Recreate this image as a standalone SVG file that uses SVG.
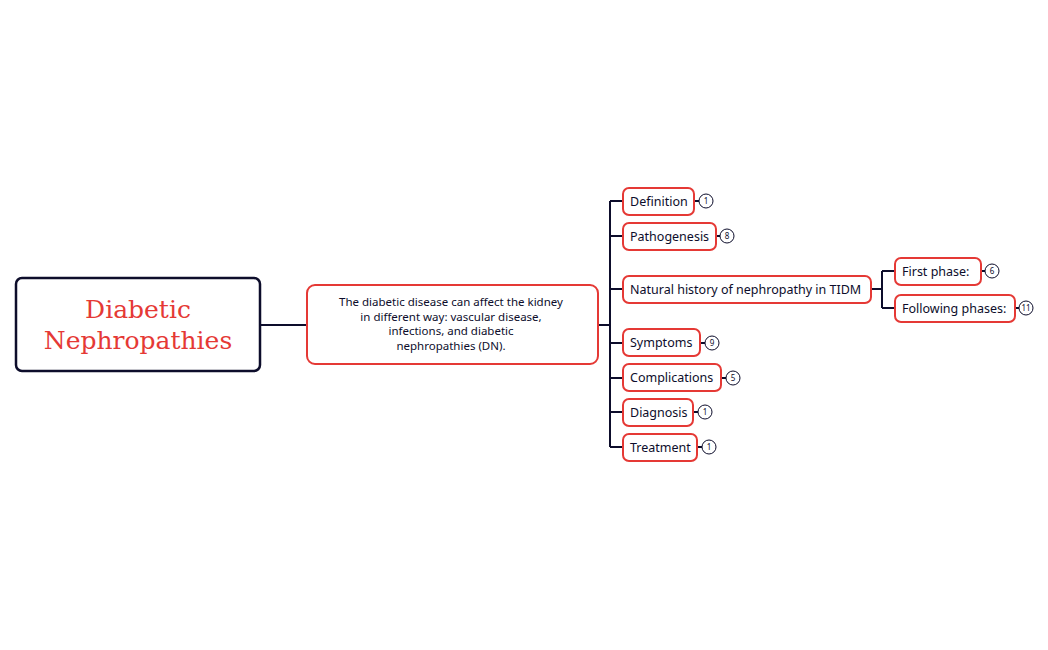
<svg xmlns="http://www.w3.org/2000/svg" width="1048" height="650" viewBox="0 0 1048 650">
<style>
.n{fill:#fff;stroke:#e53935;stroke-width:2}
.t{font-family:"Noto Sans",sans-serif;font-size:12.5px;fill:#0d0d2b}
.m{font-family:"Noto Sans",sans-serif;font-size:11.5px;fill:#0d0d2b}
.c{fill:none;stroke:#0d0d2b;stroke-width:2}
.b{fill:#fff;stroke:#0d0d2b;stroke-width:1}
.bt{font-family:"Noto Sans",sans-serif;font-size:8px;fill:#0d0d2b;text-anchor:middle}
</style>
<rect width="1048" height="650" fill="#fff"/>
<g id="connectors">
<path class="c" d="M260 325H307M598 325H610M610 201V447M610 201H623M610 236H623M610 289H623M610 343H623M610 378H623M610 412H623M610 447H623M871 289H882M882 271V308M882 271H895M882 308H895" stroke-width="2.5"/>
<path class="c" stroke-width="1" d="M694 201H699M716 236H720M700 343H705M721 378H726M693 412H698M697 447H702M981 271H985M1015 308H1019"/>
</g>
<g id="root"><rect x="16" y="278" width="244" height="93" rx="6" fill="#fff" stroke="#0d0d2b" stroke-width="2.5"/>
<text x="138" y="318" font-family="'DejaVu Serif',serif" font-size="25" fill="#e53935" text-anchor="middle">Diabetic</text>
<text x="138" y="349" font-family="'DejaVu Serif',serif" font-size="25" fill="#e53935" text-anchor="middle">Nephropathies</text></g>
<g id="main"><rect class="n" x="307" y="285" width="291" height="79" rx="8"/>
<text class="m" text-anchor="middle"><tspan x="451" y="306">The diabetic disease can affect the kidney</tspan><tspan x="451" y="320.5">in different way: vascular disease,</tspan><tspan x="451" y="335">infections, and diabetic</tspan><tspan x="451" y="349.5">nephropathies (DN).</tspan></text></g>
<g id="definition"><rect class="n" x="623" y="188" width="71" height="27" rx="6"/><text class="t" x="630" y="206">Definition</text><circle class="b" cx="706" cy="201" r="7"/><text class="bt" x="706" y="204">1</text></g>
<g id="pathogenesis"><rect class="n" x="623" y="223" width="93" height="27" rx="6"/><text class="t" x="630" y="241">Pathogenesis</text><circle class="b" cx="727" cy="236" r="7"/><text class="bt" x="727" y="239">8</text></g>
<g id="natural"><rect class="n" x="623" y="276" width="248" height="27" rx="6"/><text class="t" x="630" y="294">Natural history of nephropathy in TIDM</text></g>
<g id="symptoms"><rect class="n" x="623" y="329" width="77" height="27" rx="6"/><text class="t" x="630" y="347">Symptoms</text><circle class="b" cx="712" cy="343" r="7"/><text class="bt" x="712" y="346">9</text></g>
<g id="complications"><rect class="n" x="623" y="364" width="98" height="27" rx="6"/><text class="t" x="630" y="382">Complications</text><circle class="b" cx="733" cy="378" r="7"/><text class="bt" x="733" y="381">5</text></g>
<g id="diagnosis"><rect class="n" x="623" y="399" width="70" height="27" rx="6"/><text class="t" x="630" y="417">Diagnosis</text><circle class="b" cx="705" cy="412" r="7"/><text class="bt" x="705" y="415">1</text></g>
<g id="treatment"><rect class="n" x="623" y="434" width="74" height="27" rx="6"/><text class="t" x="630" y="452">Treatment</text><circle class="b" cx="709" cy="447" r="7"/><text class="bt" x="709" y="450">1</text></g>
<g id="first"><rect class="n" x="895" y="258" width="86" height="27" rx="6"/><text class="t" x="902" y="276">First phase:</text><circle class="b" cx="992" cy="271" r="7"/><text class="bt" x="992" y="274">6</text></g>
<g id="following"><rect class="n" x="895" y="295" width="120" height="27" rx="6"/><text class="t" x="902" y="313">Following phases:</text><circle class="b" cx="1026" cy="308" r="7"/><text class="bt" x="1026" y="311">11</text></g>
</svg>
